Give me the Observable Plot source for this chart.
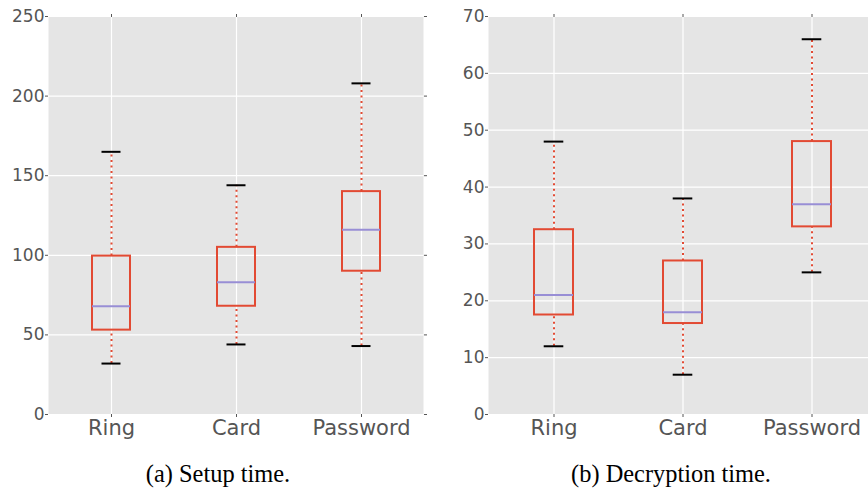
<!DOCTYPE html>
<html><head><meta charset="utf-8">
<script src="https://cdn.jsdelivr.net/npm/d3@7"></script>
<script src="https://cdn.jsdelivr.net/npm/@observablehq/plot@0.6"></script>
<style>
body{margin:0;background:#fff;}
#wrap{position:relative;width:868px;height:489px;overflow:hidden;}
.panel{position:absolute;top:0;}
.panel svg{max-width:none !important;}
.cap{position:absolute;font-family:"Liberation Serif",serif;font-size:24.4px;color:#000;text-align:center;width:300px;top:460px;}
</style></head><body>
<div id="wrap">
<div class="panel" id="a" style="left:0;width:434px"></div>
<div class="panel" id="b" style="left:434px;width:443px"></div>
<div class="cap" style="left:68px">(a) Setup time.</div>
<div class="cap" style="left:521px">(b) Decryption time.</div>
</div>
<script>
const categories = ["Ring", "Card", "Password"];

const setupLow  = [32, 44, 43];
const setupQ1   = [53, 68, 90];
const setupMed  = [68, 83, 116];
const setupQ3   = [99.5, 105, 140];
const setupHigh = [165, 144, 208];
const setupTicks = [0, 50, 100, 150, 200, 250];

const decLow  = [12, 7, 25];
const decQ1   = [17.5, 16, 33];
const decMed  = [21, 18, 37];
const decQ3   = [32.5, 27, 48];
const decHigh = [48, 38, 66];
const decTicks = [0, 10, 20, 30, 40, 50, 60, 70];

function rows(low, q1, med, q3, high) {
  return categories.map((c, i) => ({cat: c, low: low[i], q1: q1[i], med: med[i], q3: q3[i], high: high[i]}));
}

const RED = "#E24A33", PURPLE = "#988ED5";

function panel(data, ticks, o) {
  const capInset = o.capInset;
  return Plot.plot({
    width: o.width, height: 445,
    marginLeft: o.ml, marginRight: o.mr, marginTop: 16, marginBottom: 31,
    style: {fontFamily: "DejaVu Sans", background: "transparent", color: "#555", overflow: "visible", maxWidth: "none"},
    x: {domain: categories, paddingInner: 0.7, paddingOuter: 0.35, label: null},
    y: {domain: [0, ticks[ticks.length - 1]], label: null},
    marks: [
      Plot.frame({fill: "#E5E5E5", stroke: "none"}),
      Plot.gridY(ticks, {stroke: "#fff", strokeOpacity: 1, strokeWidth: 1.2}),
      Plot.gridX(categories, {stroke: "#fff", strokeOpacity: 1, strokeWidth: 1.2}),
      Plot.axisY(ticks, {anchor: "left", tickSize: 3, tickPadding: 1, fontSize: 17, label: null, stroke: "#555"}),
      Plot.axisY(ticks, {anchor: "right", tickSize: 3, tickFormat: () => "", label: null, stroke: "#555"}),
      Plot.axisX(categories, {anchor: "bottom", tickSize: 3, tickPadding: 3, fontSize: 21, label: null, stroke: "#555"}),
      Plot.axisX(categories, {anchor: "top", tickSize: 3, tickFormat: () => "", label: null, stroke: "#555"}),
      Plot.ruleX(data, {x: "cat", y1: "q3", y2: "high", stroke: RED, strokeWidth: 2, strokeDasharray: "2,3.5"}),
      Plot.ruleX(data, {x: "cat", y1: "low", y2: "q1", stroke: RED, strokeWidth: 2, strokeDasharray: "2,3.5"}),
      Plot.barY(data, {x: "cat", y1: "q1", y2: "q3", fill: "none", stroke: RED, strokeWidth: 2}),
      Plot.tickY(data, {x: "cat", y: "med", stroke: PURPLE, strokeWidth: 2}),
      Plot.tickY(data, {x: "cat", y: "low", stroke: "#000", strokeWidth: 2, insetLeft: capInset, insetRight: capInset}),
      Plot.tickY(data, {x: "cat", y: "high", stroke: "#000", strokeWidth: 2, insetLeft: capInset, insetRight: capInset})
    ]
  });
}

document.getElementById("a").append(panel(rows(setupLow, setupQ1, setupMed, setupQ3, setupHigh), setupTicks, {width: 434, ml: 48, mr: 11, capInset: 9.5}));
document.getElementById("b").append(panel(rows(decLow, decQ1, decMed, decQ3, decHigh), decTicks, {width: 443, ml: 54, mr: 0, capInset: 9.7}));
</script>
</body></html>
